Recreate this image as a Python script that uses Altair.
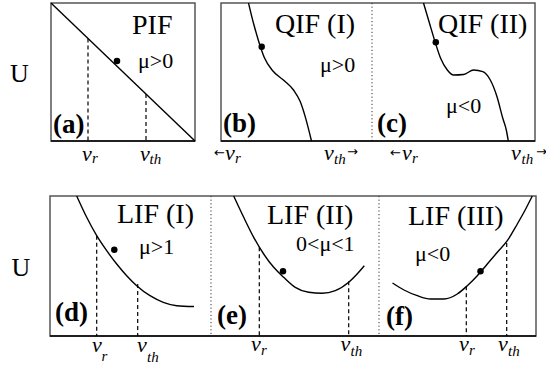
import altair as alt
import pandas as pd

W, H = 546, 367
SERIF = "Liberation Serif"

# ---------------- frames (figure units, y measured downward) ----------------
box_x1 = [51, 221, 50]
box_x2 = [195, 535, 536]
box_y1 = [3, 3, 196]
box_y2 = [141, 141, 336]

div_x = [372, 211, 379]
div_y1 = [3, 196, 196]
div_y2 = [141, 336, 336]

# ---------------- potential curves ----------------
pif_x = [51, 195]
pif_y = [3, 141]

qif1_x = [248.5, 253.5, 258.8, 264.3, 272.7, 284.3, 293.5, 300.2, 305.2, 311.5]
qif1_y = [3, 23.3, 41.7, 57.5, 70.8, 80.8, 90.0, 101.6, 116.6, 141]

qif2_x = [423.5, 429.5, 434.5, 440.5, 447.3, 453.6, 463.6, 473.6, 482.8, 490.3, 497.0, 502.8, 506.3, 508.3]
qif2_y = [3, 23.3, 40.0, 58.0, 70.0, 75.0, 74.5, 70.0, 71.7, 80.0, 96.7, 118.3, 130.0, 141]

lif1_x = [76.7, 86.7, 96.7, 106.7, 116.7, 126.7, 136.7, 150.0, 163.3, 176.7, 194.0]
lif1_y = [196, 217.3, 235.7, 250.7, 264.0, 275.7, 285.7, 295.7, 302.3, 305.7, 306.5]

lif2_x = [233.7, 243.7, 253.7, 263.7, 273.7, 283.7, 295.3, 308.7, 322.0, 335.3, 348.7, 358.7, 364.3]
lif2_y = [196, 217.3, 237.3, 254.0, 267.3, 277.3, 287.3, 292.3, 293.3, 290.7, 282.3, 272.3, 265.8]

lif3_x = [392.5, 404.0, 417.3, 430.7, 444.0, 457.3, 467.3, 477.3, 487.3, 497.3, 507.3, 517.3, 525.7, 532.3]
lif3_y = [283.0, 290.0, 295.7, 299.0, 299.0, 294.0, 285.7, 275.7, 264.0, 252.3, 240.7, 224.0, 209.0, 196]

# ---------------- threshold / reset markers ----------------
dash_x = [88, 146, 96.7, 137.7, 259.3, 348.7, 466.3, 506.7]
dash_top = [38.5, 94, 235.7, 284, 247.3, 281.3, 286.3, 243]
dash_bottom = [141, 141, 336, 336, 336, 336, 336, 336]

dot_x = [117, 261.7, 435.8, 114.3, 283, 480.5]
dot_y = [61, 46.7, 42.3, 249.7, 271.3, 271.3]

# ---------------- texts ----------------
title_text = ["PIF", "QIF (I)", "QIF (II)", "LIF (I)", "LIF (II)", "LIF (III)"]
title_x = [132, 275, 438, 117, 267, 408]
title_y = [34, 33, 33, 223, 224, 225]

mu_text = ["μ>0", "μ>0", "μ<0", "μ>1", "0<μ<1", "μ<0"]
mu_x = [138, 320, 446, 139, 296, 415]
mu_y = [68, 72, 113, 254, 251, 261]

letter_text = ["(a)", "(b)", "(c)", "(d)", "(e)", "(f)"]
letter_x = [53, 223, 377, 55, 217, 386]
letter_y = [133, 132, 132, 321, 324, 325]

u_text = ["U", "U"]
u_x = [10, 11.5]
u_y = [82, 276]

v_x = [82, 140, 225, 324, 402, 511, 92, 137, 251, 340.5, 459, 498]
v_y = [161, 161, 160, 160, 160, 160, 352, 352, 351, 351, 351, 351]
sub_text = ["r", "th", "r", "th", "r", "th", "r", "th", "r", "th", "r", "th"]
sub_x = [92, 149.5, 235, 334, 412, 521.5, 101.5, 147, 261, 350.5, 469, 508]
sub_y = [163, 164, 163, 164, 163, 164, 361, 362, 355, 356, 355, 356]

arrow_text = ["←", "→", "←", "→"]
arrow_x = [214, 347, 390, 536]
arrow_y = [153, 152, 153, 152]

# ---------------- build tables ----------------
boxes = pd.DataFrame({"x": box_x1, "x2": box_x2, "y": box_y1, "y2": box_y2})
divs = pd.DataFrame({"x": div_x, "y": div_y1, "y2": div_y2})
curves = []
for name, xs_, ys_ in [("pif", pif_x, pif_y), ("qif1", qif1_x, qif1_y), ("qif2", qif2_x, qif2_y),
                       ("lif1", lif1_x, lif1_y), ("lif2", lif2_x, lif2_y), ("lif3", lif3_x, lif3_y)]:
    for i, (a, b) in enumerate(zip(xs_, ys_)):
        curves.append({"curve": name, "i": i, "x": a, "y": b})
curves = pd.DataFrame(curves)
dashes = pd.DataFrame({"x": dash_x, "y": dash_top, "y2": dash_bottom})
dots = pd.DataFrame({"x": dot_x, "y": dot_y})
titles = pd.DataFrame({"t": title_text, "x": title_x, "y": title_y})
mus = pd.DataFrame({"t": mu_text, "x": mu_x, "y": mu_y})
letters = pd.DataFrame({"t": letter_text, "x": letter_x, "y": letter_y})
us = pd.DataFrame({"t": u_text, "x": u_x, "y": u_y})
vs = pd.DataFrame({"t": ["v"] * len(v_x), "x": v_x, "y": v_y})
subs = pd.DataFrame({"t": sub_text, "x": sub_x, "y": sub_y})
arrows = pd.DataFrame({"t": arrow_text, "x": arrow_x, "y": arrow_y})
bottoms = pd.DataFrame({"x": box_x1, "x2": box_x2, "y": box_y2})

xs = alt.Scale(domain=[0, W], nice=False, zero=False)
ys = alt.Scale(domain=[0, H], nice=False, zero=False, reverse=True)
X = alt.X("x:Q", scale=xs, axis=None)
Y = alt.Y("y:Q", scale=ys, axis=None)

frame = alt.Chart(boxes).mark_rect(fill=None, stroke="#555555", strokeWidth=1.5).encode(
    x=X, x2="x2:Q", y=Y, y2="y2:Q")
bottom = alt.Chart(bottoms).mark_rule(color="black", strokeWidth=1.6).encode(
    x=X, x2="x2:Q", y=Y)
divider = alt.Chart(divs).mark_rule(color="#333333", strokeWidth=1, strokeDash=[1.2, 2.4]).encode(
    x=X, y=Y, y2="y2:Q")
dash = alt.Chart(dashes).mark_rule(color="black", strokeWidth=1.2, strokeDash=[4, 3]).encode(
    x=X, y=Y, y2="y2:Q")
lines = alt.Chart(curves).mark_line(color="black", strokeWidth=1.4, interpolate="monotone").encode(
    x=X, y=Y, detail="curve:N", order="i:Q")
points = alt.Chart(dots).mark_circle(color="black", size=42, opacity=1).encode(x=X, y=Y)


def txt(df, **kw):
    base = dict(align="left", baseline="alphabetic", font=SERIF, color="black")
    base.update(kw)
    return alt.Chart(df).mark_text(**base).encode(x=X, y=Y, text="t:N")


t_titles = txt(titles, fontSize=28)
t_mu = txt(mus, fontSize=22)
t_letters = txt(letters, fontSize=27, fontWeight="bold")
t_u = txt(us, fontSize=26)
t_v = txt(vs, fontSize=22, fontStyle="italic")
t_sub = txt(subs, fontSize=15, fontStyle="italic")
t_arrow = txt(arrows, fontSize=13, font="DejaVu Sans", baseline="middle")

chart = alt.layer(
    frame, divider, dash, lines, bottom, points,
    t_titles, t_mu, t_letters, t_u, t_v, t_sub, t_arrow
).properties(
    width=W, height=H, autosize=alt.AutoSizeParams(type="none"), padding=0,
    background="white"
).configure_view(stroke=None)

chart.save("out.html", embed_options={"renderer": "svg", "actions": False})
